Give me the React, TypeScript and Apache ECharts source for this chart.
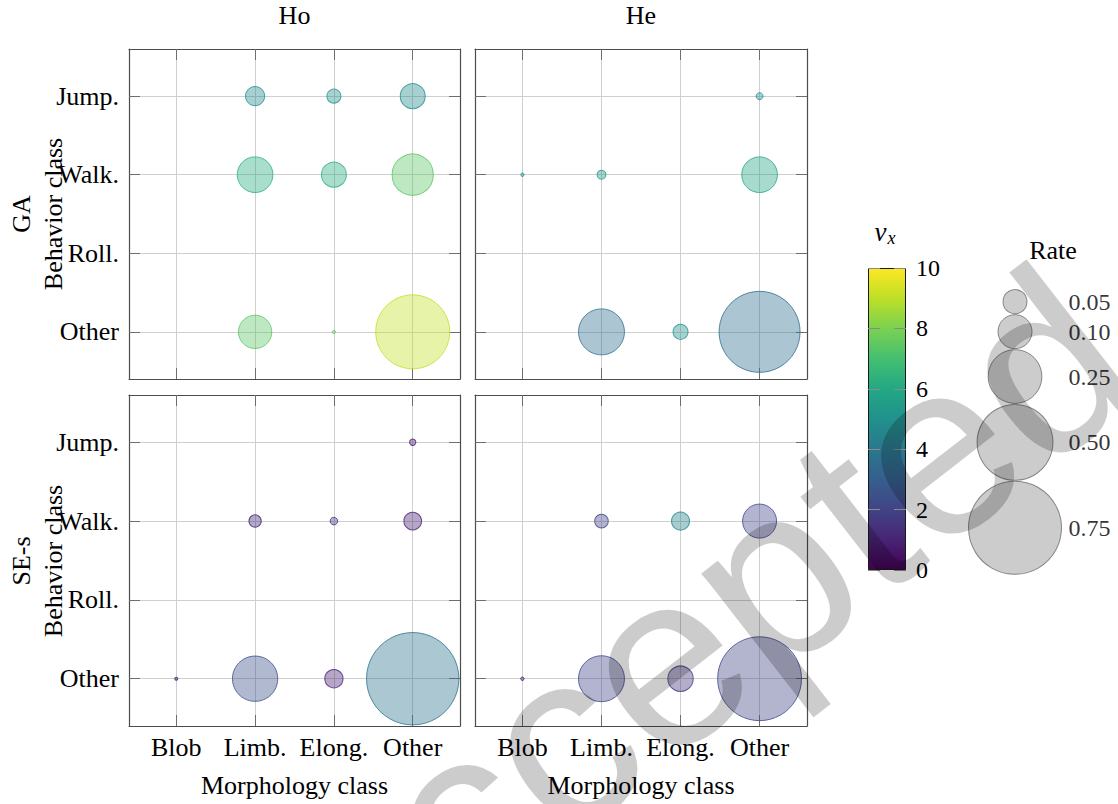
import React, { useEffect, useRef } from 'react';
import * as echarts from 'echarts';

// Category labels
const morphologyClasses = ['Blob', 'Limb.', 'Elong.', 'Other'];
const behaviorClasses = ['Other', 'Roll.', 'Walk.', 'Jump.']; // bottom -> top
const columnTitles = ['Ho', 'He'];
const rowTitles = ['GA', 'SE-s'];
const classTicks = [0, 1, 2, 3];

// Each point: [morphology index, behavior index, rate, v_x]
const gaHo = [
  [1, 3, 0.032, 4.8],
  [2, 3, 0.017, 5.0],
  [3, 3, 0.054, 4.8],
  [1, 2, 0.11, 6.2],
  [2, 2, 0.054, 6.2],
  [3, 2, 0.148, 7.4],
  [1, 0, 0.096, 7.4],
  [2, 0, 0.001, 7.6],
  [3, 0, 0.475, 9.1],
];
const gaHe = [
  [3, 3, 0.0042, 5.0],
  [0, 2, 0.001, 4.8],
  [1, 2, 0.007, 5.2],
  [3, 2, 0.11, 5.9],
  [1, 0, 0.183, 3.6],
  [2, 0, 0.0195, 5.0],
  [3, 0, 0.569, 3.6],
];
const seHo = [
  [3, 3, 0.0035, 1.0],
  [1, 2, 0.0132, 1.1],
  [2, 2, 0.005, 1.6],
  [3, 2, 0.027, 1.0],
  [0, 0, 0.0008, 0.6],
  [1, 0, 0.178, 2.4],
  [2, 0, 0.029, 1.0],
  [3, 0, 0.74, 3.8],
];
const seHe = [
  [1, 2, 0.016, 2.0],
  [2, 2, 0.028, 4.4],
  [3, 2, 0.1, 2.0],
  [0, 0, 0.001, 0.6],
  [1, 0, 0.183, 2.0],
  [2, 0, 0.056, 1.5],
  [3, 0, 0.61, 2.1],
];
const panelData = [gaHo, gaHe, seHo, seHe];

// Colour bar range and size legend entries
const vxMin = 0;
const vxMax = 10;
const vxStep = 2;
const legendRates = [0.05, 0.1, 0.25, 0.5, 0.75];

const viridisStops = [
  '#440154', '#482475', '#414487', '#355f8d', '#2a788e', '#21918c',
  '#22a884', '#44bf70', '#7ad151', '#bddf26', '#fde725',
];

const FONT = "'Liberation Serif', 'Times New Roman', serif";
const RADIUS_SCALE = 53.7; // px of radius per sqrt(rate)

function hexToRgb(h: string): number[] {
  const n = parseInt(h.slice(1), 16);
  return [(n >> 16) & 255, (n >> 8) & 255, n & 255];
}
const stopRgb = viridisStops.map(hexToRgb);

function viridis(v: number, alpha = 1): string {
  const t = Math.min(1, Math.max(0, (v - vxMin) / (vxMax - vxMin)));
  const pos = t * (stopRgb.length - 1);
  const i = Math.min(stopRgb.length - 2, Math.floor(pos));
  const f = pos - i;
  const a = stopRgb[i];
  const b = stopRgb[i + 1];
  const c = a.map((x, k) => Math.round(x + (b[k] - x) * f));
  return `rgba(${c[0]},${c[1]},${c[2]},${alpha})`;
}

const bubbleSize = (rate: number) => 2 * RADIUS_SCALE * Math.sqrt(rate);

const panels = [
  { left: 129, top: 49, width: 331, height: 330 },
  { left: 475, top: 49, width: 332, height: 330 },
  { left: 129, top: 395, width: 331, height: 331 },
  { left: 475, top: 395, width: 332, height: 331 },
];

function buildOption() {
  const grid: any[] = panels.map((p) => ({ ...p, containLabel: false }));
  grid.push({ left: 868, top: 268, width: 38, height: 302 }); // colour bar
  grid.push({ left: 960, top: 280, width: 120, height: 300 }); // size legend

  const frame = { show: true, onZero: false, lineStyle: { color: '#4d4d4d', width: 1.2 } };
  const tick = {
    show: true, inside: true, length: 11, customValues: classTicks,
    lineStyle: { color: '#6e6e6e', width: 1 },
  };
  const gridLine = { show: true, lineStyle: { color: '#cfcfcf', width: 1 } };
  const wordStyle = { fontFamily: FONT, fontSize: 26, color: '#000' };
  const numberStyle = { fontFamily: FONT, fontSize: 24, color: '#000' };

  const xAxis: any[] = [];
  const yAxis: any[] = [];
  panels.forEach((_, p) => {
    const row = Math.floor(p / 2);
    const col = p % 2;
    xAxis.push({
      gridIndex: p, type: 'value', min: -0.6, max: 3.6, position: 'bottom',
      axisLine: frame, axisTick: tick, splitLine: gridLine,
      axisLabel: {
        show: row === 1, customValues: classTicks, margin: 8, ...wordStyle,
        formatter: (v: number) => morphologyClasses[Math.round(v)] ?? '',
      },
      name: row === 1 ? 'Morphology class' : '', nameLocation: 'middle', nameGap: 46,
      nameTextStyle: wordStyle,
    });
    xAxis.push({
      gridIndex: p, type: 'value', min: -0.6, max: 3.6, position: 'top',
      axisLine: frame, axisTick: tick, splitLine: { show: false },
      axisLabel: { show: false, customValues: classTicks },
      name: row === 0 ? columnTitles[col] : '', nameLocation: 'middle', nameGap: 21,
      nameTextStyle: wordStyle,
    });
    yAxis.push({
      gridIndex: p, type: 'value', min: -0.6, max: 3.6, position: 'left',
      axisLine: frame, axisTick: tick, splitLine: gridLine,
      axisLabel: {
        show: col === 0, customValues: classTicks, margin: 10, ...wordStyle,
        formatter: (v: number) => behaviorClasses[Math.round(v)] ?? '',
      },
    });
    yAxis.push({
      gridIndex: p, type: 'value', min: -0.6, max: 3.6, position: 'right',
      axisLine: frame, axisTick: tick, splitLine: { show: false },
      axisLabel: { show: false, customValues: classTicks },
    });
  });

  // colour bar axes (x index 8, y indices 8 and 9)
  xAxis.push({ gridIndex: 4, type: 'category', data: [''], show: false });
  const cbTick = { show: true, inside: true, length: 12, lineStyle: { color: '#8a8a8a', width: 1 } };
  yAxis.push({
    gridIndex: 4, type: 'value', min: vxMin, max: vxMax, interval: vxStep, position: 'right',
    axisLine: { show: false }, axisTick: cbTick, splitLine: { show: false },
    axisLabel: { margin: 10, ...numberStyle }, z: 5,
  });
  yAxis.push({
    gridIndex: 4, type: 'value', min: vxMin, max: vxMax, interval: vxStep, position: 'left',
    axisLine: { show: false }, axisTick: cbTick, splitLine: { show: false },
    axisLabel: { show: false }, z: 5,
  });

  // size legend axes (x index 9, y index 10): pixel offsets inside the legend box
  xAxis.push({ gridIndex: 5, type: 'value', min: 0, max: 120, show: false });
  yAxis.push({ gridIndex: 5, type: 'value', min: 0, max: 300, inverse: true, show: false });

  const series: any[] = panelData.map((pts, p) => ({
    type: 'scatter',
    xAxisIndex: 2 * p,
    yAxisIndex: 2 * p,
    symbolSize: (v: number[]) => bubbleSize(v[2]),
    data: pts.map((d) => ({
      value: d,
      itemStyle: { color: viridis(d[3], 0.5), borderColor: viridis(d[3]), borderWidth: 1 },
    })),
    z: 3,
  }));

  // colour bar
  series.push({
    type: 'bar', xAxisIndex: 8, yAxisIndex: 8, data: [vxMax], barWidth: '100%',
    itemStyle: {
      color: new echarts.graphic.LinearGradient(0, 1, 0, 0,
        viridisStops.map((c, i) => ({ offset: i / (viridisStops.length - 1), color: c }))),
      borderColor: '#1a1a1a', borderWidth: 1,
    },
    z: 1,
  });

  // size legend: circles stacked top to bottom with a small gap
  const gap = 1;
  const radii = legendRates.map((r) => bubbleSize(r) / 2);
  const centers: number[] = [];
  radii.forEach((r, i) => {
    centers.push(i === 0 ? 9.7 + r : centers[i - 1] + radii[i - 1] + r + gap);
  });
  series.push({
    type: 'scatter', xAxisIndex: 9, yAxisIndex: 10,
    symbolSize: (v: number[]) => bubbleSize(v[2]),
    itemStyle: { color: 'rgba(128,128,128,0.5)', borderColor: 'rgba(70,70,70,0.75)', borderWidth: 1 },
    data: legendRates.map((r, i) => [55, centers[i], r]),
    z: 3,
  });
  series.push({
    type: 'scatter', xAxisIndex: 9, yAxisIndex: 10, symbolSize: 1,
    itemStyle: { color: 'transparent' },
    label: {
      show: true, position: 'right', distance: 0, ...numberStyle,
      formatter: (prm: any) => prm.value[2].toFixed(2),
    },
    data: legendRates.map((r, i) => [108, centers[i], r]),
    z: 3,
  });

  const textBase = {
    fontFamily: FONT, fontSize: 26, fill: '#000',
    textAlign: 'center', textVerticalAlign: 'middle', align: 'center', verticalAlign: 'middle',
  };
  const rowCenters = [214, 561];

  const graphic: any[] = [];
  rowCenters.forEach((y, r) => {
    graphic.push({ type: 'text', x: 21, y, rotation: Math.PI / 2, style: { ...textBase, text: rowTitles[r] } });
    graphic.push({ type: 'text', x: 53, y, rotation: Math.PI / 2, style: { ...textBase, text: 'Behavior class' } });
  });
  graphic.push(
    { type: 'text', x: 1053, y: 250, style: { ...textBase, text: 'Rate' } },
    {
      type: 'text', x: 885, y: 232,
      style: {
        ...textBase,
        text: '{v|v}{s|x}',
        rich: {
          v: { fontFamily: FONT, fontStyle: 'italic', fontSize: 27, lineHeight: 30, verticalAlign: 'middle' },
          s: { fontFamily: FONT, fontStyle: 'italic', fontSize: 18, lineHeight: 30, verticalAlign: 'bottom', padding: [0, 0, 0, 1] },
        },
      },
    },
    {
      type: 'text', x: 700, y: 632, rotation: 0.66, z: 100, silent: true,
      style: {
        text: 'accepted', fontFamily: "'Liberation Sans', Arial, sans-serif", fontSize: 248,
        fill: 'rgba(0,0,0,0.2)',
        textAlign: 'center', textVerticalAlign: 'middle', align: 'center', verticalAlign: 'middle',
      },
    },
  );

  return {
    animation: false,
    backgroundColor: '#fff',
    textStyle: { fontFamily: FONT },
    grid, xAxis, yAxis, series, graphic,
  };
}

export default function App() {
  const ref = useRef<HTMLDivElement>(null);
  useEffect(() => {
    if (!ref.current) return;
    const chart = echarts.init(ref.current, undefined, { renderer: 'svg' });
    chart.setOption(buildOption() as any);
    return () => chart.dispose();
  }, []);
  return (
    <div
      ref={ref}
      style={{ position: 'fixed', left: 0, top: 0, width: 1118, height: 804, background: '#fff' }}
    />
  );
}
